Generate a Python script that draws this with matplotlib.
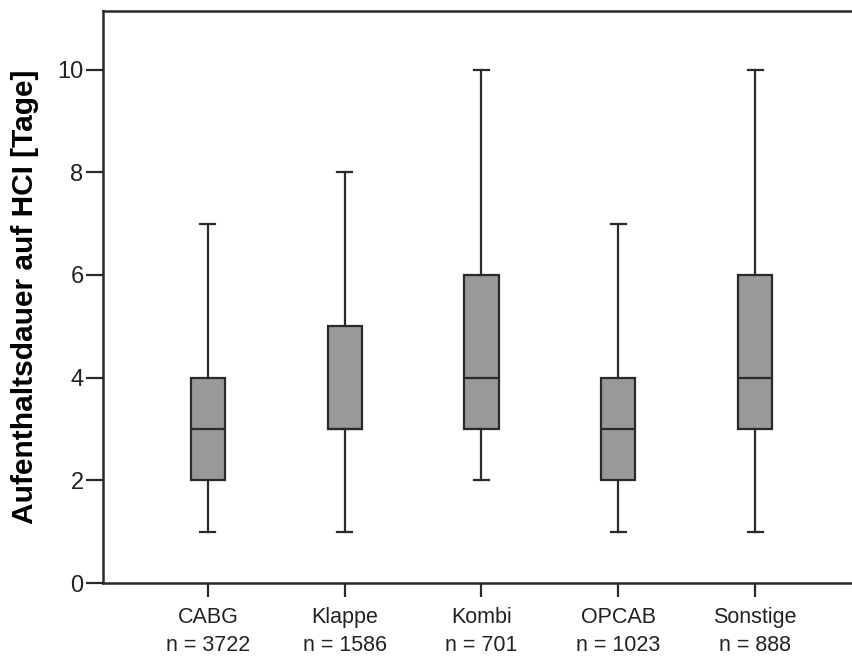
import matplotlib
matplotlib.use('Agg')
import matplotlib.pyplot as plt

# Box statistics (days on ICU)
categories = ['CABG', 'Klappe', 'Kombi', 'OPCAB', 'Sonstige']
counts = [3722, 1586, 701, 1023, 888]
whisker_low = [1, 1, 2, 1, 1]
q1 = [2, 3, 3, 2, 3]
median = [3, 3, 4, 3, 4]
q3 = [4, 5, 6, 4, 6]
whisker_high = [7, 8, 10, 7, 10]

plt.rcParams['font.family'] = ['Liberation Sans', 'DejaVu Sans']

fig = plt.figure(figsize=(8.52, 6.62), dpi=100)
ax = fig.add_axes([103 / 852, 1 - 583 / 662, 749 / 852, 572 / 662])

stats = []
for i, cat in enumerate(categories):
    stats.append({
        'label': f'{cat}\nn = {counts[i]}',
        'whislo': whisker_low[i],
        'q1': q1[i],
        'med': median[i],
        'q3': q3[i],
        'whishi': whisker_high[i],
        'fliers': [],
    })

edge = '#2a2a2a'
positions = list(range(1, len(categories) + 1))
ax.bxp(stats, positions=positions, widths=0.25, capwidths=0.11,
       showfliers=False, patch_artist=True,
       boxprops=dict(facecolor='#999999', edgecolor=edge, linewidth=1.6),
       medianprops=dict(color=edge, linewidth=1.6),
       whiskerprops=dict(color=edge, linewidth=1.6),
       capprops=dict(color=edge, linewidth=1.6))

# Axis limits, ticks and styling
ax.set_xlim(1 - 105 / 137, 1 + 645 / 137)
ax.set_ylim(0, 11.14)
ax.set_yticks([0, 2, 4, 6, 8, 10])

for side in ['left', 'bottom', 'top']:
    ax.spines[side].set_color(edge)
    ax.spines[side].set_linewidth(1.8)
ax.spines['right'].set_visible(False)

ax.tick_params(axis='y', direction='out', length=12, width=1.6, color=edge,
               labelsize=17, pad=2, labelcolor='#222222')
ax.tick_params(axis='x', direction='out', length=10, width=1.6, color=edge,
               labelsize=15.5, pad=7, labelcolor='#222222')
for lbl in ax.get_xticklabels():
    lbl.set_linespacing(1.45)

ax.set_ylabel('Aufenthaltsdauer auf HCI [Tage]', fontsize=21.5, fontweight='bold')
ax.yaxis.set_label_coords(-0.085, 0.5)

fig.savefig('out.png', dpi=100)
